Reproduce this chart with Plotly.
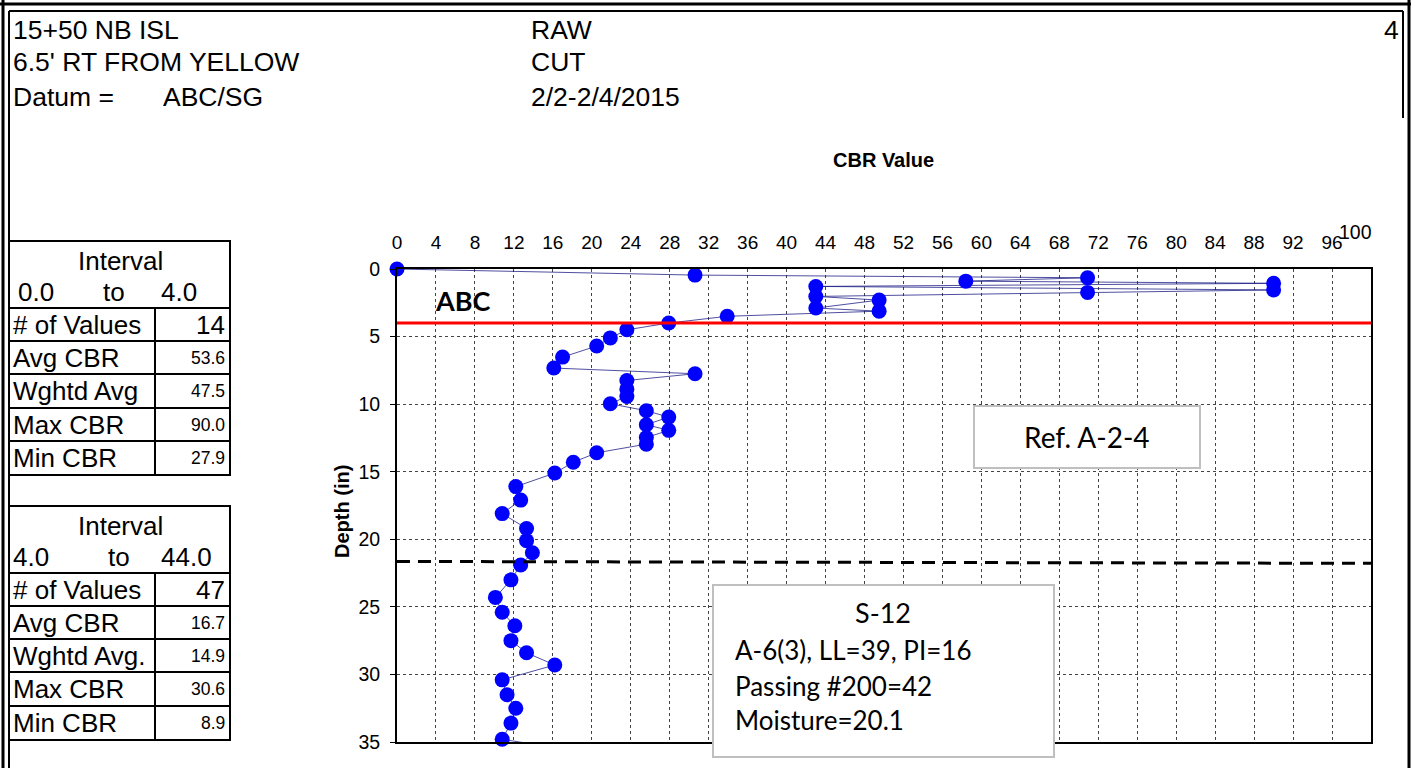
import plotly.graph_objects as go

# ---------------- data ----------------
depth_in = [0.0, 0.45, 0.65, 0.9, 1.06, 1.29, 1.55, 1.73, 2.03, 2.3, 2.89, 3.12, 3.5, 4.0,
            4.5, 5.1, 5.7, 6.52, 7.33, 7.75, 8.25, 8.89, 9.43, 9.97,
            10.49, 10.96, 11.52, 11.94, 12.47, 12.96, 13.6, 14.3, 15.1, 16.1,
            17.1, 18.1, 19.2, 20.1, 21.0, 21.9, 23.0, 24.3, 25.4, 26.4,
            27.5, 28.4, 29.3, 30.4, 31.5, 32.5, 33.6, 34.8,
            35.9, 36.9, 37.9, 38.9, 39.9, 40.9, 41.9, 42.9, 43.9]
cbr_value = [0.0, 30.6, 70.9, 58.4, 90.0, 43.0, 90.0, 70.9, 43.0, 49.5, 43.0, 49.5, 33.9, 27.9,
             23.6, 21.9, 20.5, 17.0, 16.1, 30.6, 23.6, 23.6, 23.6, 21.9,
             25.6, 27.9, 25.6, 27.9, 25.6, 25.6, 20.5, 18.1, 16.2, 12.2,
             12.7, 10.8, 13.3, 13.3, 13.9, 12.7, 11.7, 10.1, 10.8, 12.1,
             11.7, 13.3, 16.2, 10.8, 11.3, 12.2, 11.7, 10.8,
             20.5, 13.5, 11.0, 9.5, 8.9, 10.5, 12.0, 11.0, 10.0]

x_ticks = list(range(0, 97, 4))
y_ticks = [0, 5, 10, 15, 20, 25, 30, 35]
y_max = 35

header_left = ["15+50 NB ISL", "6.5' RT FROM YELLOW", "Datum ="]
header_datum = "ABC/SG"
header_mid = ["RAW", "CUT", "2/2-2/4/2015"]
page_no = "4"

stat_labels_1 = ["# of Values", "Avg CBR", "Wghtd Avg", "Max CBR", "Min CBR"]
stat_values_1 = ["14", "53.6", "47.5", "90.0", "27.9"]
interval_1 = ["0.0", "to", "4.0"]
stat_labels_2 = ["# of Values", "Avg CBR", "Wghtd Avg.", "Max CBR", "Min CBR"]
stat_values_2 = ["47", "16.7", "14.9", "30.6", "8.9"]
interval_2 = ["4.0", "to", "44.0"]

layer_top = 4.0
layer_dash = [21.64, 21.78]
ref_text = "Ref. A-2-4"
sample_lines = ["S-12", "A-6(3), LL=39, PI=16", "Passing #200=42", "Moisture=20.1"]

# ---------------- geometry helpers (pixels -> paper) ----------------
W_FIG, H_FIG = 1411, 768
L, R, T, B = 397, 1371, 269, 742
PW, PH = R - L, B - T


def px(x):
    return (x - L) / PW


def py(y):
    return (B - y) / PH


ARIAL = "Liberation Sans, Arial, sans-serif"
CALI = "Lato, Carlito, Calibri, sans-serif"

fig = go.Figure()
# connecting line (clipped to the plot area)
fig.add_trace(go.Scatter(
    x=cbr_value, y=depth_in, mode="lines",
    line=dict(color="rgba(20,20,130,0.75)", width=1),
    cliponaxis=True, showlegend=False, hoverinfo="skip"))
# markers inside the depth range (drawn unclipped, like the original)
vis_x = [c for c, d in zip(cbr_value, depth_in) if d <= y_max]
vis_y = [d for d in depth_in if d <= y_max]
fig.add_trace(go.Scatter(
    x=vis_x, y=vis_y, mode="markers",
    marker=dict(color="#0000FF", size=15, line=dict(width=0)),
    cliponaxis=False, showlegend=False, hoverinfo="x+y"))

shapes = []
annos = []


def hline(x0, x1, y, w=2, color="black"):
    shapes.append(dict(type="line", xref="paper", yref="paper", x0=px(x0), x1=px(x1),
                       y0=py(y), y1=py(y), line=dict(color=color, width=w), layer="above"))


def vline(x, y0, y1, w=2, color="black"):
    shapes.append(dict(type="line", xref="paper", yref="paper", x0=px(x), x1=px(x),
                       y0=py(y0), y1=py(y1), line=dict(color=color, width=w), layer="above"))


def text(x, y, s, size, xanchor="left", font=ARIAL, bold=False, color="black", angle=0):
    annos.append(dict(xref="paper", yref="paper", x=px(x), y=py(y), text=("<b>%s</b>" % s) if bold else s,
                      showarrow=False, xanchor=xanchor, yanchor="middle", textangle=angle,
                      font=dict(family=font, size=size, color=color)))


# page frame
hline(0, W_FIG, 4, 3)
hline(9, 1403, 11, 2)
vline(3, 0, H_FIG, 3)
vline(9, 11, H_FIG, 2)
vline(1409, 0, H_FIG, 3)
vline(1403, 11, 118, 2)

# header
HF = 26.5
for s, yy in zip(header_left, [30, 62, 97]):
    text(11, yy, s, HF)
text(161, 97, header_datum, HF)
for s, yy in zip(header_mid, [30, 62, 97]):
    text(529, yy, s, HF)
text(1401, 30, page_no, HF, xanchor="right")


# statistics tables
TF = 26


def table(top, bottom, hdr_line, rows, labels, values, interval, iv_x):
    shapes.append(dict(type="rect", xref="paper", yref="paper", x0=px(9), x1=px(230),
                       y0=py(top), y1=py(bottom), line=dict(color="black", width=2), layer="above"))
    hline(9, 230, hdr_line, 2)
    for r in rows:
        hline(9, 230, r, 2)
    vline(155, hdr_line, bottom, 2)
    text(120, top + 20, "Interval", TF, xanchor="center")
    for s, xx, anc in zip(interval, iv_x, ["left", "center", "left"]):
        text(xx, top + 51, s, TF, xanchor=anc)
    bounds = [hdr_line] + rows + [bottom]
    for i, (lab, val) in enumerate(zip(labels, values)):
        yc = (bounds[i] + bounds[i + 1]) / 2
        text(11, yc, lab, TF)
        text(227, yc, val, TF if i == 0 else 17.5, xanchor="right")


table(241, 475, 308, [341, 374, 408, 441], stat_labels_1, stat_values_1, interval_1, [16, 114, 159])
table(506, 740, 573, [606, 639, 672, 706], stat_labels_2, stat_values_2, interval_2, [11, 119, 159])

# axis titles
text(883, 160, "CBR Value", 20, xanchor="center", bold=True)
annos.append(dict(xref="paper", yref="paper", x=px(342), y=py(512), text="<b>Depth (in)</b>",
                  showarrow=False, textangle=-90, xanchor="center", yanchor="middle",
                  font=dict(family=ARIAL, size=20, color="black")))
text(1355, 232, "100", 19.5, xanchor="center")

# layer markers
shapes.append(dict(type="line", xref="x", yref="y", x0=0, x1=100, y0=layer_top, y1=layer_top,
                   line=dict(color="#FF0000", width=3), layer="above"))
shapes.append(dict(type="line", xref="x", yref="y", x0=0, x1=100, y0=layer_dash[0], y1=layer_dash[1],
                   line=dict(color="black", width=3, dash="13px,8px"), layer="above"))
text(463, 300, "ABC", 27, font=CALI, bold=True, xanchor="center")

# annotation boxes
shapes.append(dict(type="rect", xref="paper", yref="paper", x0=px(974), x1=px(1200), y0=py(406), y1=py(468),
                   line=dict(color="#BFBFBF", width=2), fillcolor="white", layer="above"))
text(1087, 437, ref_text, 28, font=CALI, xanchor="center")
shapes.append(dict(type="rect", xref="paper", yref="paper", x0=px(713), x1=px(1054), y0=py(585), y1=py(757),
                   line=dict(color="#BFBFBF", width=2), fillcolor="white", layer="above"))
text(883, 612, sample_lines[0], 27, font=CALI, xanchor="center")
for s, yy in zip(sample_lines[1:], [650, 686, 720]):
    text(733, yy, s, 26, font=CALI)

fig.update_layout(
    width=W_FIG, height=H_FIG,
    margin=dict(l=L, r=W_FIG - R, t=T, b=H_FIG - B, pad=0),
    paper_bgcolor="white", plot_bgcolor="white",
    showlegend=False, shapes=shapes, annotations=annos,
    font=dict(family=ARIAL, color="black"),
    xaxis=dict(range=[0, 100], side="top", tickvals=x_ticks, ticktext=[str(v) for v in x_ticks],
               showgrid=True, gridcolor="#444444", griddash="dot", gridwidth=1,
               showline=True, linecolor="black", linewidth=2, mirror=True,
               ticks="outside", ticklen=10, tickcolor="rgba(0,0,0,0)",
               tickfont=dict(family=ARIAL, size=19, color="black"), zeroline=False, fixedrange=True),
    yaxis=dict(range=[y_max, 0], tickvals=y_ticks, ticktext=[str(v) for v in y_ticks],
               showgrid=True, gridcolor="#444444", griddash="dot", gridwidth=1,
               showline=True, linecolor="black", linewidth=2, mirror=True,
               ticks="outside", ticklen=5, tickcolor="black", ticklabelstandoff=6,
               tickfont=dict(family=ARIAL, size=19.5, color="black"), zeroline=False, fixedrange=True),
)

fig.write_html("out.html", include_plotlyjs=True, full_html=True,
               config={"displayModeBar": False},
               post_script="document.body.style.margin='0';document.body.style.overflow='hidden';")
